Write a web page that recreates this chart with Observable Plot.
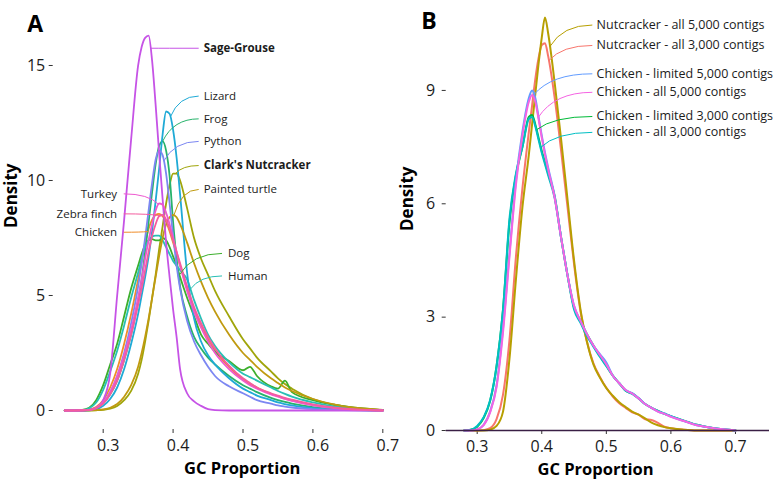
<!DOCTYPE html>
<html><head><meta charset="utf-8">
<script src="https://cdn.jsdelivr.net/npm/d3@7"></script>
<script src="https://cdn.jsdelivr.net/npm/@observablehq/plot@0.6"></script>
<style>
body{margin:0;background:#fff;}
#wrap{position:relative;width:783px;height:480px;overflow:hidden;background:#fff;}
#wrap svg{position:absolute;top:0;}
</style></head><body><div id="wrap"></div>
<script>
// ---------- Panel A data ----------
const gcA = [0.245,0.27,0.28,0.29,0.30,0.31,0.32,0.33,0.34,0.35,0.355,0.36,0.365,0.37,0.375,0.38,0.385,0.39,0.395,0.40,0.405,0.41,0.42,0.43,0.44,0.45,0.46,0.48,0.50,0.51,0.52,0.54,0.55,0.56,0.57,0.60,0.63,0.66,0.70];
const chickenA   = [0,0.01,0.04,0.15,0.45,1.0,1.8,2.9,4.2,5.7, 6.5,7.3,7.9,8.3,8.5,8.55,8.45,8.2,7.8,7.3, 6.8,6.3,5.3,4.4,3.7,3.1,2.6,1.9,1.35,1.15, 1.0,0.72,0.62,0.52,0.44,0.24,0.11,0.04,0];
const nutcrackerA= [0,0,0,0.01,0.03,0.08,0.2,0.45,0.85,1.6, 2.2,3.0,3.9,4.9,5.9,7.0,8.0,9.0,9.8,10.3, 10.3,10.0,8.8,7.5,6.6,5.9,5.2,4.1,3.1,2.7, 2.3,1.7,1.4,1.15,0.95,0.5,0.25,0.1,0.02];
const dogA       = [0,0.03,0.12,0.45,1.1,2.0,2.9,4.1,5.3,6.3, 6.8,7.2,7.4,7.45,7.4,7.4,7.5,7.4,7.1,6.7, 6.3,5.8,4.9,4.1,3.3,2.9,2.55,2.15,1.75,1.9, 1.5,1.05,0.95,1.3,0.8,0.45,0.25,0.12,0.02];
const frogA      = [0,0.01,0.03,0.1,0.3,0.7,1.3,2.2,3.3,4.8, 5.7,6.9,8.2,9.5,10.7,11.5,11.7,11.3,10.2,8.2, 6.6,5.4,4.1,3.2,2.7,2.3,2.0,1.5,1.1,0.95, 0.8,0.55,0.45,0.37,0.3,0.15,0.07,0.03,0];
const humanA     = [0,0.02,0.1,0.35,0.9,1.7,2.6,3.7,4.9,6.0, 6.6,7.1,7.4,7.55,7.6,7.6,7.4,7.1,6.8,6.5, 6.3,6.1,5.7,4.8,4.0,3.3,2.8,2.1,1.6,1.45, 1.3,1.0,0.85,0.72,0.6,0.35,0.18,0.08,0.01];
const lizardA    = [0,0,0.01,0.05,0.2,0.5,1.0,1.8,2.9,4.2, 5.0,5.8,6.7,7.8,9.1,10.5,12.0,13.0,12.9,12.2, 11.0,9.4,6.0,4.0,3.0,2.4,2.0,1.4,0.95,0.8, 0.65,0.45,0.35,0.28,0.22,0.1,0.04,0.015,0];
const turtleA    = [0,0,0.01,0.02,0.05,0.12,0.28,0.6,1.1,1.9, 2.5,3.2,4.0,4.9,5.8,6.7,7.5,8.1,8.4,8.5, 8.4,8.1,7.3,6.4,5.6,4.9,4.3,3.3,2.5,2.2, 1.9,1.4,1.2,1.0,0.85,0.5,0.27,0.12,0.03];
const pythonA    = [0,0.01,0.03,0.12,0.35,0.8,1.5,2.5,3.8,5.4, 6.4,7.5,8.7,9.9,10.9,11.3,11.1,10.3,9.0,7.6, 6.3,5.3,3.9,3.0,2.4,1.9,1.5,1.05,0.75,0.6, 0.45,0.3,0.22,0.17,0.13,0.06,0.03,0.01,0];
const sageGrouseA= [0,0,0.02,0.1,0.45,1.6,5.0,8.3,11.8,15.0, 15.8,16.2,16.3,15.2,13.3,11.2,9.2,7.3,5.8,4.4, 3.2,1.8,0.75,0.4,0.2,0.06,0.02,0,0,0, 0,0,0,0,0,0,0,0,0];
const turkeyA    = [0,0.01,0.03,0.12,0.35,0.8,1.5,2.4,3.5,4.9, 5.7,6.6,7.4,8.1,8.7,9.0,8.95,8.6,8.1,7.5, 6.9,6.3,5.2,4.3,3.6,3.0,2.5,1.8,1.3,1.1, 0.95,0.7,0.6,0.5,0.42,0.22,0.1,0.04,0];
const zebraFinchA= [0,0.01,0.03,0.1,0.3,0.7,1.3,2.2,3.3,4.6, 5.3,6.1,6.9,7.6,8.1,8.45,8.5,8.3,7.9,7.4, 6.9,6.4,5.4,4.5,3.8,3.2,2.7,1.95,1.4,1.2, 1.0,0.75,0.65,0.55,0.47,0.27,0.13,0.05,0];
const seriesA = ["Chicken","Clark's Nutcracker","Dog","Frog","Human","Lizard","Painted turtle","Python","Sage-Grouse","Turkey","Zebra finch"];
const valuesA = [chickenA,nutcrackerA,dogA,frogA,humanA,lizardA,turtleA,pythonA,sageGrouseA,turkeyA,zebraFinchA];
const colorsA = ["#F08C28","#A0A50A","#3CAF2C","#27B36B","#28BFB5","#1FAAD6","#C09A10","#7C87F2","#C653E6","#EE58CF","#F45C9E"];
const ticksXA = [0.3,0.4,0.5,0.6,0.7];
const ticksYA = [0,5,10,15];
// label annotations (which curve point each label points at, and where the label sits)
const labelSeriesA  = ["Sage-Grouse","Lizard","Frog","Python","Clark's Nutcracker","Painted turtle","Turkey","Zebra finch","Chicken","Dog","Human"];
const labelTargetA  = [0.3675,0.396,0.385,0.3866,0.4033,0.401,0.3794,0.382,0.364,0.409,0.4247];
const labelGcA      = [0.4366,0.4366,0.4366,0.4366,0.4366,0.4366,0.3294,0.3294,0.3294,0.47,0.47];
const labelDensityA = [15.75,13.67,12.68,11.7,10.65,9.61,9.42,8.55,7.75,6.83,5.85];
const labelBoldA    = ["Sage-Grouse","Clark's Nutcracker"];

// ---------- Panel B data ----------
const gcB = [0.28,0.29,0.30,0.31,0.32,0.33,0.34,0.35,0.36,0.37,0.38,0.385,0.39,0.395,0.40,0.405,0.41,0.42,0.43,0.44,0.45,0.46,0.47,0.48,0.49,0.50,0.51,0.52,0.53,0.54,0.55,0.56,0.57,0.58,0.59,0.60,0.62,0.64,0.66,0.68,0.70];
const nut3000B   = [0,0,0,0.01,0.06,0.3,0.95,2.4,4.6,6.4,7.9, 8.6,9.3,9.85,10.2,10.25, 9.9,8.8,7.4,5.9,4.4,3.15,2.35,1.78,1.42,1.13,0.9,0.72,0.6,0.48,0.42,0.3,0.28,0.2,0.1,0.06, 0.02,0,0,0,0];
const nut5000B   = [0,0,0,0,0.02,0.12,0.5,1.9,4.0,5.9,7.3, 8.1,8.9,9.7,10.4,10.93, 10.5,9.2,7.7,6.1,4.5,3.2,2.35,1.75,1.4,1.12,0.92,0.75,0.62,0.5,0.42,0.32,0.21,0.14,0.09,0.06, 0.02,0,0,0,0];
const chLim3000B = [0,0.02,0.1,0.33,0.78,1.7,3.2,5.5,6.75,7.5,8.3, 8.35,8.1,7.75,7.4,7.1, 6.8,6.2,5.1,4.1,3.25,2.9,2.55,2.25,1.97,1.72,1.45,1.25,1.05,0.98,0.85,0.7,0.6,0.52,0.44,0.38, 0.26,0.15,0.08,0.03,0];
const chAll3000B = [0,0.02,0.12,0.35,0.8,1.7,3.2,5.6,6.8,7.5,8.25, 8.3,8.05,7.7,7.35,7.05, 6.75,6.15,5.1,4.1,3.2,2.85,2.5,2.22,1.95,1.7,1.45,1.25,1.05,0.97,0.85,0.7,0.6,0.52,0.45,0.38, 0.26,0.15,0.08,0.03,0];
const chLim5000B = [0,0,0.03,0.15,0.5,1.2,2.7,4.7,6.6,7.9,8.8, 9.0,8.8,8.3,7.8,7.35, 6.95,6.2,5.1,4.1,3.3,2.9,2.55,2.25,2.02,1.8,1.45,1.25,1.07,0.99,0.86,0.7,0.6,0.5,0.44,0.37, 0.25,0.14,0.08,0.03,0];
const chAll5000B = [0,0,0.03,0.14,0.48,1.15,2.6,4.6,6.5,7.8,8.7, 8.88,8.7,8.25,7.75,7.3, 6.9,6.15,5.1,4.1,3.3,2.9,2.55,2.25,2.0,1.75,1.45,1.25,1.07,0.98,0.85,0.7,0.6,0.5,0.44,0.36, 0.25,0.14,0.08,0.03,0];
const seriesB = ["Nutcracker - all 3,000 contigs","Nutcracker - all 5,000 contigs","Chicken - limited 3,000 contigs","Chicken - all 3,000 contigs","Chicken - limited 5,000 contigs","Chicken - all 5,000 contigs"];
const valuesB = [nut3000B,nut5000B,chLim3000B,chAll3000B,chLim5000B,chAll5000B];
const colorsB = ["#F8766D","#B79F00","#00BA38","#00BFC4","#619CFF","#F564E3"];
const ticksXB = [0.3,0.4,0.5,0.6,0.7];
const ticksYB = [0,3,6,9];
const labelSeriesB  = ["Nutcracker - all 5,000 contigs","Nutcracker - all 3,000 contigs","Chicken - limited 5,000 contigs","Chicken - all 5,000 contigs","Chicken - limited 3,000 contigs","Chicken - all 3,000 contigs"];
const labelTargetB  = [0.4126,0.411,0.3878,0.3946,0.392,0.398];
const labelGcB      = [0.4783,0.4783,0.4783,0.4783,0.4783,0.4783];
const labelDensityB = [10.73,10.19,9.44,8.95,8.31,7.89];

// ---------- helpers ----------
const FONT = "'Open Sans', 'DejaVu Sans', sans-serif";
const INK = "#1c1c1c";
function tidy(grid, names, values) {
  return names.flatMap((name, i) => grid.map((gc, j) => ({series: name, gc, density: values[i][j]})));
}
function valueAt(grid, vals, x) {
  for (let j = 0; j < grid.length - 1; j++) {
    if (x >= grid[j] && x <= grid[j + 1]) {
      const t = (x - grid[j]) / (grid[j + 1] - grid[j]);
      return vals[j] + t * (vals[j + 1] - vals[j]);
    }
  }
  return 0;
}
function leaders(grid, names, values, lSeries, lTarget, lGc, lDens) {
  return lSeries.map((name, k) => {
    const vals = values[names.indexOf(name)];
    return {name, x1: lTarget[k], y1: valueAt(grid, vals, lTarget[k]), x2: lGc[k], y2: lDens[k]};
  });
}
// curved leader: leaves the curve point at an angle, arrives horizontally at the label
function leaderCurve(context) {
  let pts = [];
  return {
    areaStart() {}, areaEnd() {},
    lineStart() { pts = []; },
    point(x, y) { pts.push([+x, +y]); },
    lineEnd() {
      if (pts.length < 2) return;
      const a = pts[0], b = pts[pts.length - 1];
      context.moveTo(a[0], a[1]);
      context.quadraticCurveTo(a[0] + 0.3 * (b[0] - a[0]), b[1], b[0], b[1]);
    }
  };
}

// ---------- Panel A ----------
const rowsA = tidy(gcA, seriesA, valuesA);
const leadA = leaders(gcA, seriesA, valuesA, labelSeriesA, labelTargetA, labelGcA, labelDensityA);
const rightA = leadA.filter(d => d.x2 > 0.4 && d.x2 < 0.46);
const leftA = leadA.filter(d => d.x2 < 0.35);
const lowA = leadA.filter(d => d.x2 > 0.46);

const plotA = Plot.plot({
  width: 400, height: 480,
  marginLeft: 52.7, marginTop: 16, marginRight: 3, marginBottom: 51,
  style: {fontFamily: FONT, color: INK, background: "transparent", overflow: "visible"},
  x: {domain: [0.2285, 0.721]},
  y: {domain: [-0.826, 17.13]},
  color: {domain: seriesA, range: colorsA},
  marks: [
    Plot.axisX({ticks: ticksXA, tickSize: 4, tickFormat: () => "", line: true, stroke: "#333", label: null}),
    Plot.axisX({ticks: ticksXA, tickSize: 0, tickPadding: 10, dx: 5, tickFormat: d3.format(".1f"), fontSize: 16, fill: INK, label: null}),
    Plot.axisY({ticks: ticksYA, tickSize: 4, tickPadding: 4, line: true, stroke: "#333", fontSize: 16, fill: INK, label: null}),
    Plot.line(rowsA, {x: "gc", y: "density", z: "series", stroke: "series", strokeWidth: 1.8, curve: "monotone-x"}),
    Plot.link(leadA, {x1: "x1", y1: "y1", x2: "x2", y2: "y2", stroke: "name", strokeWidth: 1, curve: leaderCurve}),
    Plot.text(rightA.filter(d => !labelBoldA.includes(d.name)), {x: "x2", y: "y2", text: "name", textAnchor: "start", dx: 5, fontSize: 11.5, fill: INK}),
    Plot.text(rightA.filter(d => labelBoldA.includes(d.name)), {x: "x2", y: "y2", text: "name", textAnchor: "start", dx: 5, fontSize: 11.5, fontWeight: "bold", fill: INK}),
    Plot.text(leftA, {x: "x2", y: "y2", text: "name", textAnchor: "end", dx: -6.6, fontSize: 11.5, fill: INK}),
    Plot.text(lowA, {x: "x2", y: "y2", text: "name", textAnchor: "start", dx: 6, fontSize: 11.5, fill: INK}),
    Plot.text(["A"], {text: d => d, frameAnchor: "top-left", textAnchor: "start", dx: -26, dy: -1, fontSize: 23, fontWeight: "bold", fill: "#000"}),
    Plot.text(["Density"], {text: d => d, frameAnchor: "left", rotate: -90, dx: -41.7, dy: 5, fontSize: 17, fontWeight: "bold", fill: "#000"}),
    Plot.text(["GC Proportion"], {text: d => d, frameAnchor: "bottom", dx: 16.8, dy: 44, fontSize: 16.5, fontWeight: "bold", fill: "#000"})
  ]
});
plotA.style.left = "0px";

// ---------- Panel B ----------
const rowsB = tidy(gcB, seriesB, valuesB);
const leadB = leaders(gcB, seriesB, valuesB, labelSeriesB, labelTargetB, labelGcB, labelDensityB);

const plotB = Plot.plot({
  width: 383, height: 480,
  marginLeft: 45.7, marginTop: 17, marginRight: 14, marginBottom: 50,
  style: {fontFamily: FONT, color: INK, background: "transparent", overflow: "visible"},
  x: {domain: [0.252, 0.7527]},
  y: {domain: [0, 10.93]},
  color: {domain: seriesB, range: colorsB},
  marks: [
    Plot.axisX({ticks: ticksXB, tickSize: 4, tickPadding: 6, tickFormat: d3.format(".1f"), fontSize: 16, fill: INK, stroke: "#333", label: null}),
    Plot.axisY({ticks: ticksYB, tickSize: 4, tickPadding: 7, line: true, stroke: "#333", fontSize: 16, fill: INK, label: null}),
    Plot.line(rowsB, {x: "gc", y: "density", z: "series", stroke: "series", strokeWidth: 2, curve: "monotone-x"}),
    Plot.ruleY([0], {stroke: "#3a1f45", strokeWidth: 1.5}),
    Plot.link(leadB, {x1: "x1", y1: "y1", x2: "x2", y2: "y2", stroke: "name", strokeWidth: 1, curve: leaderCurve}),
    Plot.text(leadB, {x: "x2", y: "y2", text: "name", textAnchor: "start", dx: 4.3, fontSize: 12.5, fill: INK}),
    Plot.text(["B"], {text: d => d, frameAnchor: "top-left", textAnchor: "start", dx: -25, dy: -5, fontSize: 23, fontWeight: "bold", fill: "#000"}),
    Plot.text(["Density"], {text: d => d, frameAnchor: "left", rotate: -90, dx: -38.7, dy: 7, fontSize: 17, fontWeight: "bold", fill: "#000"}),
    Plot.text(["GC Proportion"], {text: d => d, frameAnchor: "bottom", dx: -12.3, dy: 44, fontSize: 16.5, fontWeight: "bold", fill: "#000"})
  ]
});
plotB.style.left = "400px";

const wrap = document.getElementById("wrap");
wrap.appendChild(plotA);
wrap.appendChild(plotB);
</script></body></html>
